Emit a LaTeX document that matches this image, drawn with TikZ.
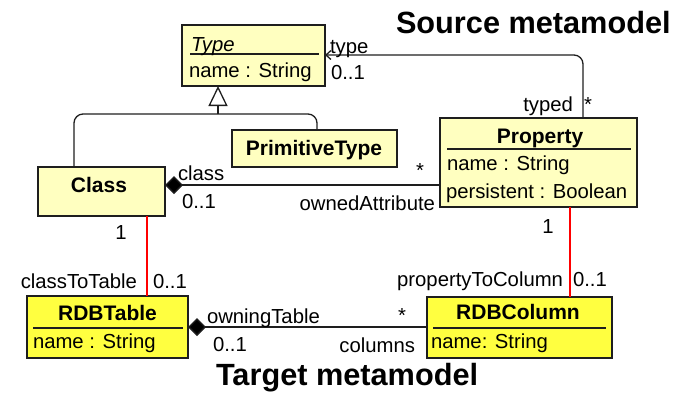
\documentclass[tikz,border=0pt]{standalone}
\usepackage{fontspec}
\setmainfont{Liberation Sans}
\usetikzlibrary{arrows.meta,calc}
\definecolor{srcfill}{RGB}{255,255,192}
\definecolor{tgtfill}{RGB}{255,255,64}
\definecolor{edge}{RGB}{30,30,30}

\tikzset{
  umlbox/.style={draw=edge, line width=1.5pt, inner sep=0pt, outer sep=0pt, anchor=north west},
  srcbox/.style={umlbox, fill=srcfill},
  tgtbox/.style={umlbox, fill=tgtfill},
  txt/.style={inner sep=0pt, outer sep=0pt, font=\fontsize{20.3}{24}\selectfont},
  boldtxt/.style={inner sep=0pt, outer sep=0pt, font=\fontsize{21}{24}\selectfont\bfseries},
  heading/.style={inner sep=0pt, outer sep=0pt, anchor=base west, font=\fontsize{30.7}{34}\selectfont\bfseries},
  divider/.style={line width=1.5pt, draw=edge},
  assoc/.style={line width=1.3pt, draw=edge},
  maplink/.style={line width=1.5pt, draw=red},
  comp/.style={assoc, -{Diamond[length=18pt,width=18pt,fill=black]}},
}

\begin{document}
\begin{tikzpicture}[x=1pt,y=-1pt]
\useasboundingbox (0,0) rectangle (682,392);

% ---- class boxes ----
\node[srcbox, minimum width=143pt, minimum height=61pt] (type) at (182,25) {};
\node[srcbox, minimum width=165pt, minimum height=37pt] (prim) at (232,130) {};
\node[srcbox, minimum width=127pt, minimum height=49pt] (class) at (38,167) {};
\node[srcbox, minimum width=197pt, minimum height=89pt] (prop) at (440,118) {};
\node[tgtbox, minimum width=161pt, minimum height=62pt] (table) at (27,296) {};
\node[tgtbox, minimum width=185pt, minimum height=61pt] (column) at (427,297) {};

% compartment separators
\draw[divider] ($(type.north west)+(8,29)$) -- ($(type.north east)+(-6,29)$);
\draw[divider] ($(prop.north west)+(7,31)$) -- ($(prop.north east)+(-6,31)$);
\draw[divider] ($(table.north west)+(6,32)$) -- ($(table.north east)+(-5,32)$);
\draw[divider] ($(column.north west)+(6,31)$) -- ($(column.north east)+(-6,31)$);

% ---- box contents ----
\node[txt, anchor=base west] (typeTitle) at (191,51) {\itshape Type};
\node[txt, anchor=base west] (typeAttr) at (189,77) {name : String};
\node[boldtxt, anchor=base] (primTitle) at (314,155) {PrimitiveType};
\node[boldtxt, anchor=base] (classTitle) at (99,192) {Class};
\node[boldtxt, anchor=base] (propTitle) at (540,143) {Property};
\node[txt, anchor=base west] (propAttrA) at (447,170) {name : String};
\node[txt, anchor=base west] (propAttrB) at (446,198) {persistent : Boolean};
\node[boldtxt, anchor=base] (tableTitle) at (107.5,320) {RDBTable};
\node[txt, anchor=base west] (tableAttr) at (33,348) {name : String};
\node[boldtxt, anchor=base] (columnTitle) at (518,319) {RDBColumn};
\node[txt, anchor=base west] (columnAttr) at (431,348) {name: String};

% ---- generalization ----
\coordinate (gen) at (218,114);
\draw[assoc, rounded corners=9pt] ($(class.north west)+(36,0)$) |- (gen) -| ($(prim.north west)+(85,0)$);
\draw[assoc, -{Triangle[length=20pt,width=19pt,fill=white]}] (gen) -- (type.south -| gen);

% ---- associations ----
\draw[assoc, rounded corners=9pt, -{Straight Barb[length=5pt,width=9pt]}]
  ($(prop.north west)+(143,0)$) |- ($(type.north east)+(0,30)$);
\draw[comp] ($(prop.north west)+(0,67)$) -- ($(class.north east)+(0,18)$);
\draw[comp] ($(column.north west)+(0,30)$) -- ($(table.north east)+(0,31)$);

% ---- mappings ----
\draw[maplink] ($(class.south west)+(109,0)$) -- ($(table.north west)+(120,0)$);
\draw[maplink] ($(prop.south west)+(130,0)$) -- ($(column.north west)+(143,0)$);

% ---- role names and multiplicities ----
\node[txt, anchor=base west] (lType) at (330,53) {type};
\node[txt, anchor=base west] (mType) at (331,79) {0..1};
\node[txt, anchor=base east] (lTyped) at (573,111) {typed};
\node[txt, anchor=base west] (mTyped) at (584,111) {*};
\node[txt, anchor=base west] (lClass) at (178,180) {class};
\node[txt, anchor=base west] (mClass) at (182,208) {0..1};
\node[txt, anchor=base] (mOwned) at (420,177) {*};
\node[txt, anchor=base east] (lOwned) at (435,210) {ownedAttribute};
\node[txt, anchor=base] (mClassMap) at (121,239) {1};
\node[txt, anchor=base east] (lClassToTable) at (137,288) {classToTable};
\node[txt, anchor=base west] (mClassToTable) at (153,288) {0..1};
\node[txt, anchor=base] (mPropMap) at (548,233) {1};
\node[txt, anchor=base east] (lPropToCol) at (563,286) {propertyToColumn};
\node[txt, anchor=base west] (mPropToCol) at (573,286) {0..1};
\node[txt, anchor=base west] (lOwning) at (207,323) {owningTable};
\node[txt, anchor=base west] (mOwning) at (213,351) {0..1};
\node[txt, anchor=base] (mColumns) at (402,322) {*};
\node[txt, anchor=base east] (lColumns) at (415,352) {columns};

% ---- headings ----
\node[heading] (srcHead) at (396,33.5) {Source metamodel};
\node[heading] (tgtHead) at (216,385) {Target metamodel};
\end{tikzpicture}
\end{document}
